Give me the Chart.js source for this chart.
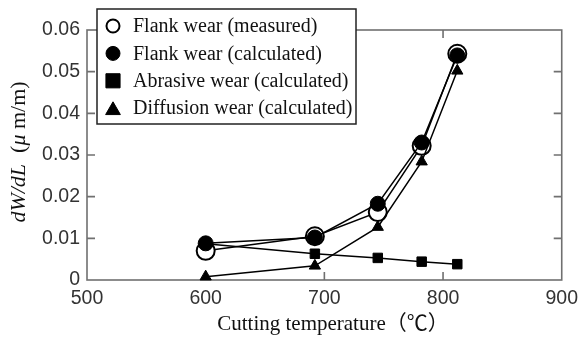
<!DOCTYPE html>
<html>
<head>
<meta charset="utf-8">
<title>Flank wear vs cutting temperature</title>
<script src="https://cdn.jsdelivr.net/npm/chart.js@4/dist/chart.umd.min.js"></script>
<style>
  body { margin: 0; background: #fff; }
  #wrap { width: 585px; height: 338px; }
</style>
</head>
<body>
<div id="wrap"><canvas id="wearChart" width="585" height="338"></canvas></div>
<script>
// values
const temps = [600, 692, 745, 782, 812];
const measuredWear = [0.0070, 0.0105, 0.0163, 0.0322, 0.0543];
const calculatedWear = [0.0088, 0.0102, 0.0183, 0.0330, 0.0539];
const abrasiveWear = [0.0087, 0.0063, 0.0053, 0.0044, 0.0038];
const diffusionWear = [0.0008, 0.0034, 0.0127, 0.0284, 0.0502];

const xTicks = [500, 600, 700, 800, 900];
const yTicks = [0, 0.01, 0.02, 0.03, 0.04, 0.05, 0.06];

const serif = '"Liberation Serif", "Times New Roman", serif';
const sans = '"Liberation Sans", Arial, sans-serif';

function toPoints(values) {
  return temps.map((t, i) => ({ x: t, y: values[i] }));
}

// box round the plot, with ticks pointing inward on all four sides
const framePlugin = {
  id: 'frame',
  beforeDatasetsDraw(chart) {
    const { ctx, chartArea: a, scales } = chart;
    ctx.save();
    ctx.strokeStyle = '#707070';
    ctx.lineWidth = 1.6;
    ctx.strokeRect(a.left, a.top, a.right - a.left, a.bottom - a.top);
    ctx.beginPath();
    xTicks.forEach(v => {
      const px = scales.x.getPixelForValue(v);
      if (px <= a.left + 1 || px >= a.right - 1) return;
      ctx.moveTo(px, a.bottom); ctx.lineTo(px, a.bottom - 8);
      ctx.moveTo(px, a.top); ctx.lineTo(px, a.top + 8);
    });
    yTicks.forEach(v => {
      const py = scales.y.getPixelForValue(v);
      if (py <= a.top + 1 || py >= a.bottom - 1) return;
      ctx.moveTo(a.left, py); ctx.lineTo(a.left + 8, py);
      ctx.moveTo(a.right, py); ctx.lineTo(a.right - 8, py);
    });
    ctx.stroke();
    ctx.restore();
  }
};

// axis titles (y title mixes italic and upright text)
const titlesPlugin = {
  id: 'titles',
  afterDraw(chart) {
    const ctx = chart.ctx;
    ctx.save();
    ctx.fillStyle = '#111';
    ctx.textBaseline = 'middle';
    ctx.textAlign = 'center';
    ctx.font = '21px ' + serif + ', "Noto Sans CJK JP"';
    ctx.fillText('Cutting temperature（℃）', 333, 324);

    const parts = [
      { t: 'dW/dL', f: 'italic 22px ' + serif },
      { t: '  (', f: '22px ' + serif },
      { t: 'μ', f: 'italic 22px ' + serif },
      { t: ' m/m)', f: '22px ' + serif }
    ];
    let total = 0;
    parts.forEach(p => { ctx.font = p.f; p.w = ctx.measureText(p.t).width; total += p.w; });
    ctx.translate(19, 152);
    ctx.rotate(-Math.PI / 2);
    ctx.textAlign = 'left';
    let x = -total / 2;
    parts.forEach(p => { ctx.font = p.f; ctx.fillText(p.t, x, 0); x += p.w; });
    ctx.restore();
  }
};

// framed legend sitting over the top-left corner of the plot
const legendMarks = [
  { pointStyle: 'circle', radius: 6.5, borderWidth: 2, fill: '#fff' },
  { pointStyle: 'circle', radius: 7, borderWidth: 1, fill: '#000' },
  { pointStyle: 'rect', radius: 10, borderWidth: 1, fill: '#000' },
  { pointStyle: 'triangle', radius: 8.5, borderWidth: 1, fill: '#000' }
];
const legendPlugin = {
  id: 'boxLegend',
  afterDraw(chart) {
    const ctx = chart.ctx;
    const bx = 97, by = 9, bw = 259, bh = 115;
    ctx.save();
    ctx.fillStyle = '#fff';
    ctx.fillRect(bx, by, bw, bh);
    ctx.strokeStyle = '#222';
    ctx.lineWidth = 1.5;
    ctx.strokeRect(bx, by, bw, bh);
    chart.data.datasets.forEach((ds, i) => {
      const cy = 26 + i * 27.4;
      const m = legendMarks[i];
      ctx.fillStyle = m.fill;
      ctx.strokeStyle = '#000';
      ctx.lineWidth = m.borderWidth;
      const oy = m.pointStyle === 'triangle' ? m.radius / 4 : 0;
      Chart.helpers.drawPoint(ctx, { pointStyle: m.pointStyle, radius: m.radius, borderWidth: m.borderWidth, rotation: 0 }, 113, cy + oy);
      ctx.fillStyle = '#111';
      ctx.font = '20px ' + serif;
      ctx.textAlign = 'left';
      ctx.textBaseline = 'middle';
      ctx.fillText(ds.label, 133, cy + 1);
    });
    ctx.restore();
  }
};

function series(label, values, style, order) {
  return Object.assign({
    label: label,
    data: toPoints(values),
    borderColor: '#000',
    borderWidth: 1.5,
    pointBorderColor: '#000',
    pointHoverRadius: 0,
    tension: 0,
    clip: false,
    order: order
  }, style);
}

const ctx = document.getElementById('wearChart').getContext('2d');
new Chart(ctx, {
  type: 'line',
  data: {
    datasets: [
      series('Flank wear (measured)', measuredWear,
        { pointStyle: 'circle', pointRadius: 9, pointBorderWidth: 2, pointBackgroundColor: '#fff' }, 3),
      series('Flank wear (calculated)', calculatedWear,
        { pointStyle: 'circle', pointRadius: 7.5, pointBorderWidth: 1, pointBackgroundColor: '#000' }, 0),
      series('Abrasive wear (calculated)', abrasiveWear,
        { pointStyle: 'rect', pointRadius: 6.7, pointBorderWidth: 1, pointBackgroundColor: '#000' }, 1),
      series('Diffusion wear (calculated)', diffusionWear,
        { pointStyle: 'triangle', pointRadius: 6.5, pointBorderWidth: 1, pointBackgroundColor: '#000' }, 2)
    ]
  },
  options: {
    responsive: false,
    animation: false,
    events: [],
    layout: { padding: { left: 0, top: 30, right: 18, bottom: 0 } },
    plugins: {
      legend: { display: false },
      tooltip: { enabled: false }
    },
    scales: {
      x: {
        type: 'linear',
        min: 500,
        max: 900,
        afterFit(scale) { scale.height = 58; },
        afterBuildTicks(scale) { scale.ticks = xTicks.map(v => ({ value: v })); },
        grid: { display: false, drawTicks: false },
        border: { display: false },
        ticks: { padding: 7, color: '#333', font: { family: sans, size: 19.5 } }
      },
      y: {
        type: 'linear',
        min: 0,
        max: 0.06,
        afterFit(scale) { scale.width = 87; },
        afterBuildTicks(scale) { scale.ticks = yTicks.map(v => ({ value: v })); },
        grid: { display: false, drawTicks: false },
        border: { display: false },
        ticks: {
          padding: 7,
          color: '#333',
          font: { family: sans, size: 19.5 },
          callback: v => v === 0 ? '0' : v.toFixed(2)
        }
      }
    }
  },
  plugins: [framePlugin, titlesPlugin, legendPlugin]
});
</script>
</body>
</html>
